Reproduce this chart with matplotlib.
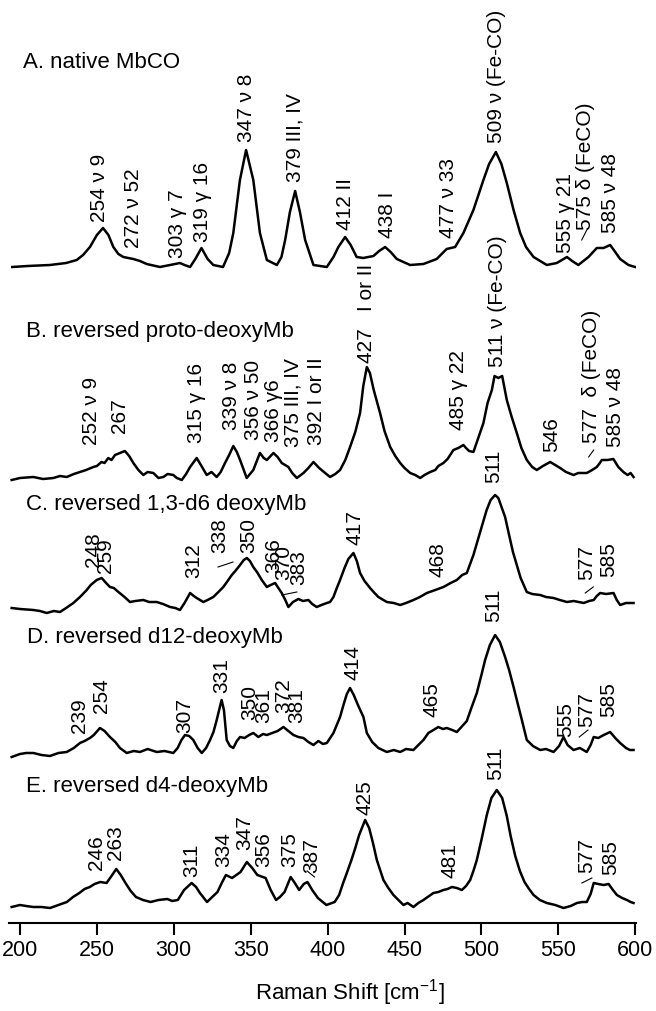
import matplotlib
matplotlib.use("Agg")
import matplotlib.pyplot as plt
import numpy as np

plt.rcParams['font.family'] = ['Liberation Sans', 'DejaVu Sans']
plt.rcParams['mathtext.fontset'] = 'custom'
plt.rcParams['mathtext.rm'] = 'Liberation Sans'
plt.rcParams['mathtext.it'] = 'Liberation Sans:italic'

# ---- spectra (Raman shift in cm-1, intensity in arbitrary units) ----
a_shift = np.array([195, 205, 219.5, 230, 236.9, 241, 245.5, 250, 254, 257.5, 260.7, 264, 267.2, 273.7, 278,
                    282.4, 291, 297.6, 304, 307, 310.6, 314, 318, 322, 325.7, 332, 336, 338.7, 343, 347,
                    351.7, 356, 360.5, 367, 370, 372.4, 375.5, 378.9, 382, 385.4, 390.8, 399.5, 403.8, 407,
                    411.4, 415, 418.9, 423.2, 429.8, 433.5, 437.4, 441, 445, 453.6, 462.3, 470.9, 477.4,
                    482.9, 488.3, 494.8, 501.3, 505, 509.4, 513, 516.5, 520.9, 525.2, 529, 533.9, 542.5,
                    549, 555.6, 559, 563, 569.6, 575, 579.4, 583.7, 587, 590.2, 595.6, 600])
a_int = np.array([0, 1, 2, 4, 7, 12, 20, 32, 39, 32, 20, 13, 10, 8, 6,
                  3, 0, 2, 4, 2, 0, 8, 19, 8, 2, 0, 14, 34, 87, 117,
                  87, 34, 7, 2, 10, 27, 55, 76, 55, 27, 2, 0, 10, 20,
                  30, 22, 10, 9, 11, 16, 20, 15, 8, 2, 3, 8, 18,
                  20, 34, 57, 87, 103, 115, 103, 84, 57, 34, 20, 10, 2,
                  4, 10, 6, 2, 10, 19, 19, 22, 15, 8, 2, 0])

b_shift = np.array([194.6, 200, 208.7, 215, 221.7, 226, 230.4, 235, 239, 243, 247.7, 250, 253, 255, 257.4,
                    259.5, 261.8, 265, 268.2, 271, 273.7, 277, 280.2, 283, 286.7, 290, 293.2, 296, 299.7,
                    302, 305.2, 308, 310.6, 314.9, 318, 321.4, 324.5, 327.9, 330.5, 333.3, 336, 338.7, 341,
                    343.1, 345.5, 347.4, 351.7, 356, 358.5, 360.5, 364.8, 367.5, 370.2, 374.5, 377, 380,
                    384.3, 387.5, 390.8, 394.5, 398.4, 401.6, 405, 408.1, 411.5, 414.6, 418, 421.1, 423.2,
                    425.5, 427.5, 430, 434.1, 437, 440.7, 444, 447.2, 450, 453.7, 457, 460.2, 463, 466.7,
                    470, 472, 475.3, 478, 481.8, 485, 488.3, 490, 492, 494.8, 497.5, 501.3, 504, 506.8,
                    508.5, 511, 513.5, 516.5, 519.5, 523, 526, 529.5, 533, 536, 540, 544.7, 548, 551.2,
                    555, 559.9, 563, 568.5, 572, 575, 577, 578.3, 582, 585.8, 589, 592.3, 595, 597, 598.9])
b_int = np.array([-2, 0, 1, -1, 0, 2, 1, 4, 6, 8, 11, 12, 16, 15, 20,
                  18, 23, 25, 27, 22, 15, 8, 3, 6, 5, 0, 1, 4, 3,
                  0, -2, 4, 11, 20, 12, 3, 6, 1, 6, 15, 23, 32, 26,
                  18, 8, 0, 8, 25, 20, 18, 25, 21, 15, 11, 5, 0,
                  5, 10, 16, 10, 5, 1, 4, 8, 18, 31, 46, 65, 92,
                  111, 105, 88, 65, 47, 31, 22, 15, 10, 5, 3, 0, 3, 6,
                  8, 12, 15, 19, 28, 30, 33, 30, 27, 26, 38, 55, 75, 88,
                  102, 100, 102, 78, 62, 45, 30, 18, 11, 8, 12, 16, 13, 10,
                  6, 3, 5, 5, 8, 11, 15, 18, 18, 19, 11, 6, 3, 5, 1])

c_shift = np.array([194.6, 200, 208.7, 213, 217.4, 222, 226, 230, 234.7, 239, 243.4, 246, 249.9, 253.1, 256,
                    258.5, 261, 264, 268, 271.5, 275, 280.2, 284, 288.9, 293, 297.6, 301, 304, 307, 310.6,
                    313, 314.9, 319.2, 322, 325.7, 329, 332.2, 335, 337.7, 340, 343.1, 345.5, 347.5, 349.5,
                    351.7, 354.5, 357.2, 360.5, 363, 365.9, 368, 370.2, 372.5, 374.5, 377.5, 381, 384, 387.5,
                    390, 392.9, 396, 399.5, 401.6, 403.8, 406, 408.1, 411, 413.5, 416.8, 419, 421.1, 424,
                    427.6, 430.5, 433, 438.5, 443, 447.2, 451, 455.8, 460, 464.5, 470, 475.3, 480, 484,
                    487.5, 490.5, 494.8, 499, 503.4, 506, 508.9, 511, 515.4, 518, 520.5, 523, 525.5, 529.5,
                    533, 538.2, 542, 546.9, 551, 555.6, 560, 566.5, 570, 573, 575, 577.2, 581, 585.9, 588,
                    590.2, 594, 598.9])
c_int = np.array([2, 1, 0, -1, -3, -1, -2, 2, 7, 13, 20, 25, 30, 32, 27,
                  23, 22, 18, 13, 8, 9, 10, 8, 8, 6, 3, 2, 0, 7, 17,
                  14, 12, 8, 10, 13, 18, 23, 29, 35, 39, 45, 50, 52, 49,
                  43, 37, 30, 23, 25, 27, 22, 17, 10, 3, 8, 11, 9, 10,
                  6, 3, 5, 7, 8, 13, 22, 30, 42, 51, 57, 49, 37, 29,
                  22, 17, 13, 8, 7, 5, 7, 10, 13, 17, 20, 23, 27, 30,
                  35, 37, 55, 77, 100, 110, 115, 112, 93, 75, 58, 45, 32, 18,
                  16, 15, 13, 12, 10, 8, 9, 7, 9, 10, 14, 17, 16, 17, 10,
                  5, 7, 7])

d_shift = np.array([194.6, 200, 204, 208.7, 214, 219.5, 225, 230.4, 235, 239, 242, 245.5, 248, 252, 255,
                    258.5, 262, 265, 269.4, 274, 278, 283, 288.9, 294, 299.7, 302.5, 305, 307.3, 310, 312.7,
                    315.5, 318.2, 321, 323.6, 325.8, 327.9, 329.8, 331.1, 332.6, 334.4, 336.5, 338.7, 341,
                    343.1, 346, 349, 351.7, 355, 358, 360.5, 364, 367.5, 371.3, 374.5, 377.8, 381, 384.3,
                    387.5, 390.8, 394, 397, 399.5, 403.8, 408.1, 410.3, 412.5, 414.6, 417, 420, 423.3, 425.5,
                    429, 433, 438.5, 443, 447.2, 451, 455.8, 459, 462.3, 465.5, 468.8, 472, 475, 477.5, 481,
                    484, 487, 490.5, 493, 497, 500, 502.4, 505.5, 508.9, 512, 515.4, 518, 520.9, 523.5,
                    526.3, 529.5, 533.5, 538.2, 542, 546.9, 550.5, 553.4, 556, 559.9, 564, 568.5, 571, 573,
                    576, 579.5, 583.7, 587, 590.2, 594, 596.5, 598.9])
d_int = np.array([-4, -1, 0, 0, -2, -3, 0, 1, 5, 10, 12, 15, 18, 25, 22,
                  16, 11, 5, 0, 2, 1, 4, 1, 2, 0, 5, 13, 18, 17, 13,
                  5, 0, 5, 13, 21, 33, 45, 53, 43, 13, 7, 5, 12,
                  16, 15, 18, 20, 16, 19, 18, 20, 22, 26, 22, 18, 16, 15,
                  11, 8, 12, 9, 10, 20, 36, 48, 59, 65, 58, 47, 36, 20,
                  11, 5, 1, 3, 1, 4, 3, 8, 13, 20, 23, 26, 24, 25, 23,
                  21, 26, 32, 43, 60, 78, 93, 108, 118, 111, 96, 83, 66, 50,
                  33, 13, 7, 3, 4, 1, 7, 16, 8, 3, 5, 1, 8, 16,
                  15, 18, 21, 15, 10, 5, 3, 3])

e_shift = np.array([194.6, 200, 204, 208.7, 214, 219.6, 225, 230.5, 234.5, 238.6, 242, 245.4, 248.5, 252.2,
                    256.3, 259.5, 262.6, 265.5, 268.6, 272, 275.4, 280, 284.9, 290, 295.8, 299, 302.6, 306.7,
                    311.6, 314.5, 317, 321.6, 325, 328.4, 331.5, 333.9, 337.9, 343.4, 347.5, 351, 354.3,
                    359.7, 363, 366.5, 369, 372, 376, 378.7, 381.5, 384.5, 386.9, 390, 393.7, 399.2, 404.6,
                    407.5, 410.1, 412.5, 415.5, 418, 420.5, 424.4, 427, 429.5, 432, 436.3, 439.5, 442.8,
                    449.3, 452, 455.8, 459, 462.3, 466, 468.8, 472, 475.3, 478, 480.8, 484, 487.3, 490,
                    492.7, 495, 497, 500, 503.5, 506.5, 510, 513.5, 516.5, 519, 522, 525, 528, 531, 533.9,
                    538, 542.5, 548, 553.4, 558, 562.1, 565.5, 568.5, 571, 573, 576, 579.4, 582.7, 585.5,
                    588.1, 591.5, 594.6, 597, 598.9])
e_int = np.array([-1, 1, 0, -1, -1, -2, 1, 4, 9, 13, 17, 19, 22, 24,
                  23, 30, 37, 31, 23, 15, 9, 6, 4, 6, 7, 5, 6, 16,
                  23, 19, 13, 4, 9, 14, 24, 31, 28, 34, 44, 38, 31,
                  28, 16, 6, 9, 14, 29, 23, 16, 22, 24, 16, 8, 1, 4,
                  11, 23, 33, 46, 58, 71, 86, 78, 63, 46, 26, 18, 11,
                  1, 3, -1, 3, 6, 10, 13, 14, 16, 17, 19, 18, 16, 20,
                  26, 36, 46, 66, 91, 108, 116, 108, 90, 70, 50, 35, 24, 17, 11,
                  6, 3, 1, -2, 0, 3, 4, 4, 12, 23, 22, 21, 22, 16,
                  11, 8, 6, 4, 3])

names = ["A. native MbCO", "B. reversed proto-deoxyMb", "C. reversed 1,3-d6 deoxyMb",
         "D. reversed d12-deoxyMb", "E. reversed d4-deoxyMb"]

a_labels = ["254 ν 9", "272 ν 52", "303 γ 7", "319 γ 16", "347 ν 8", "379 III, IV", "412 II", "438 I",
            "477 ν 33", "509 ν (Fe-CO)", "555 γ 21", "575 δ (FeCO)", "585 ν 48"]
b_labels = ["252 ν 9", "267", "315 γ 16", "339 ν 8", "356 ν 50", "366 γ6", "375 III, IV", "392 I or II",
            "427   I or II", "485 γ 22", "511 ν (Fe-CO)", "546", "577  δ (FeCO)", "585 ν 48"]
c_labels = ["248", "259", "312", "338", "350", "366", "370", "383", "417", "468", "511", "577", "585"]
d_labels = ["239", "254", "307", "331", "350", "361", "372", "381", "414", "465", "511", "555", "577", "585"]
e_labels = ["246", "263", "311", "334", "347", "356", "375", "387", "425", "481", "511", "577", "585"]

# ---- layout: vertical offsets, label anchors (shift, height above trace baseline) ----
offsets = [656, 445, 313, 170, 17]
name_pos = [(202, 199), (203.9, 141), (203.9, 100), (204.4, 110), (203.9, 114)]
a_pos = [(251.4, 45), (273.5, 19), (302.1, 9), (318.4, 25), (347.6, 125), (378.9, 85), (411.4, 37),
         (438.7, 29), (478.4, 29), (509.6, 124), (554.9, 14), (567.9, 37), (584.2, 34)]
b_pos = [(246.6, 33), (265, 45), (314.9, 35), (337.7, 48), (351.7, 38), (364.8, 36), (377.8, 31),
         (393, 33), (425.5, 115), (484.9, 48), (510.2, 111), (545.8, 26), (571.8, 35), (587, 31)]
c_pos = [(247.7, 43), (255.3, 37), (312.7, 32), (330.1, 57), (348.5, 57), (364.8, 37), (371.3, 30),
         (381, 25), (417.9, 65), (472, 33), (507.8, 127), (568.6, 30), (582.6, 33)]
d_pos = [(239, 20), (253.1, 40), (307.3, 20), (331.2, 60), (349.6, 33), (358.2, 30), (371.3, 40),
         (380, 30), (416.8, 73), (467.8, 36), (507.8, 131), (554.5, 16), (568.6, 26), (582.6, 36)]
e_pos = [(249.9, 36), (261.8, 46), (311.7, 29), (332.2, 39), (346.3, 56), (358.2, 39), (375.6, 39),
         (389.7, 33), (424.4, 91), (479.7, 28), (509, 126), (568.6, 33), (583.7, 31)]
# short leader strokes: (trace index, x0, h0, x1, h1)
leaders = [(0, 565.2, 27, 568.5, 37), (1, 569.7, 21, 573, 28), (2, 328.8, 43, 338.5, 48),
           (2, 370.2, 15, 380, 18), (2, 567.5, 17, 572.7, 23), (3, 563.6, 16, 569.3, 23),
           (4, 386.7, 35, 391.5, 29), (4, 565.3, 23, 571.8, 28)]

spectra = [(a_shift, a_int, a_labels, a_pos), (b_shift, b_int, b_labels, b_pos),
           (c_shift, c_int, c_labels, c_pos), (d_shift, d_int, d_labels, d_pos),
           (e_shift, e_int, e_labels, e_pos)]

fig = plt.figure(figsize=(6.56, 10.11), dpi=100)
ax = fig.add_axes([9.2 / 656, 1 - 923 / 1011, 626.8 / 656, 923 / 1011])
ax.set_xlim(193, 600.5)
ax.set_ylim(0, 923)

for i, (x, y, labels, pos) in enumerate(spectra):
    off = offsets[i]
    ax.plot(x, y + off, color="black", lw=1.8, solid_joinstyle="round")
    nx, nh = name_pos[i]
    ax.text(nx, off + nh, names[i], fontsize=16, ha="left", va="baseline")
    for txt, (px, ph) in zip(labels, pos):
        ax.text(px, off + ph, txt, rotation=90, ha="center", va="bottom", fontsize=15)

for i, x0, h0, x1, h1 in leaders:
    ax.plot([x0, x1], [offsets[i] + h0, offsets[i] + h1], color="black", lw=0.8)

for s in ["left", "right", "top"]:
    ax.spines[s].set_visible(False)
ax.spines["bottom"].set_linewidth(1.5)
ax.set_yticks([])
ax.set_xticks(np.arange(200, 601, 50))
ax.tick_params(axis="x", direction="out", length=8.6, width=1.5, labelsize=15.5, pad=4)
ax.set_xlabel("Raman Shift [cm$^{-1}$]", fontsize=16, va="center")
ax.xaxis.set_label_coords(0.5437, -0.0758)

fig.savefig("out.png", dpi=100)
